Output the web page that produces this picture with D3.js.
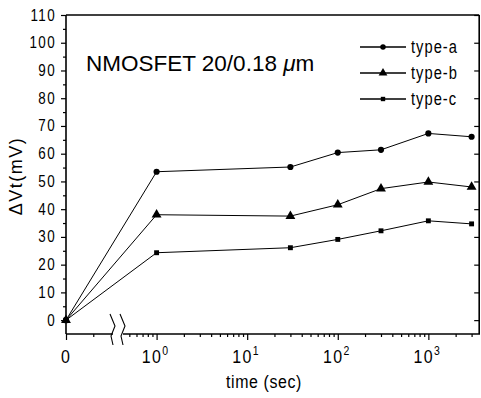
<!DOCTYPE html>
<html>
<head>
<meta charset="utf-8">
<script src="https://cdn.jsdelivr.net/npm/d3@7"></script>
<style>
  body { margin: 0; background: #fff; }
  svg { display: block; font-family: "Liberation Sans", Arial, sans-serif; }
</style>
</head>
<body>
<svg id="chart" width="481" height="398"></svg>
<script>
// data (time 0 sits at the axis origin)
const times = [0, 1, 30, 100, 300, 1000, 3000];
const typeA = [0, 53.5, 55.2, 60.4, 61.4, 67.3, 66.1];
const typeB = [0, 38.0, 37.5, 41.6, 47.4, 49.8, 48.0];
const typeC = [0, 24.3, 26.1, 29.1, 32.2, 35.8, 34.7];
const seriesNames = ["type-a", "type-b", "type-c"];
const yMajor = d3.range(0, 111, 10);
const yMinor = d3.range(5, 110, 10);
const xMajor = [0.1, 1, 10, 100, 1000];
const xMajorLabels = ["0", "10|0", "10|1", "10|2", "10|3"];

const svg = d3.select("#chart");
const plotL = 66, plotR = 480, plotT = 15, plotB = 334;
const squeeze = 0.84; // no narrow font installed, so squash the text horizontally

// log axis; the zero point is drawn at 0.1, behind the axis break
const x = d3.scaleLog().domain([0.1, Math.pow(10, 3.57)]).range([plotL, plotR]);
const y = d3.scaleLinear().domain([-5, 110]).range([plotB, plotT]);
const xPos = t => x(t === 0 ? 0.1 : t);

function narrowText(parent, tx, ty) {
  return parent.append("text")
    .attr("transform", `translate(${tx},${ty}) scale(${squeeze},1)`);
}

// minor x ticks, skipping what the break covers
const xMinor = [0.2, 0.5, 0.6, 0.7, 0.8, 0.9];
[1, 10, 100].forEach(d => { for (let k = 2; k <= 9; k++) xMinor.push(d * k); });
xMinor.push(2000, 3000);

// frame
const frame = svg.append("g").attr("stroke", "#000").attr("stroke-width", 1.6).attr("fill", "none");
frame.append("line").attr("x1", plotL).attr("x2", plotL).attr("y1", plotT).attr("y2", plotB);
frame.append("line").attr("x1", plotL).attr("x2", plotR - 0.8).attr("y1", plotT).attr("y2", plotT);
frame.append("line").attr("x1", plotR - 0.8).attr("x2", plotR - 0.8).attr("y1", plotT).attr("y2", plotB);
frame.append("line").attr("x1", plotL).attr("x2", 113).attr("y1", plotB).attr("y2", plotB);
frame.append("line").attr("x1", 123).attr("x2", plotR).attr("y1", plotB).attr("y2", plotB);

// axis break marks
[110, 120].forEach(bx => {
  frame.append("polyline")
    .attr("stroke-width", 1.1)
    .attr("points", `${bx},314 ${bx + 5},326 ${bx + 1},336 ${bx + 3},345`);
});

// y axis ticks
svg.append("g").attr("transform", `translate(${plotL},0)`)
  .call(d3.axisLeft(y).tickValues(yMajor).tickSize(5).tickFormat(""));
svg.append("g").attr("transform", `translate(${plotL},0)`)
  .call(d3.axisLeft(y).tickValues(yMinor).tickSize(3).tickFormat(""));
svg.append("g").attr("transform", `translate(${plotR - 0.8},0)`)
  .call(d3.axisLeft(y).tickValues(yMajor).tickSize(5).tickFormat(""));

const yl = svg.append("g").attr("font-size", 16).attr("text-anchor", "end");
yMajor.forEach(v => {
  narrowText(yl, plotL - 10, y(v) + 5.5).attr("letter-spacing", 1.6).text(v);
});

// x axis ticks
svg.append("g").attr("transform", `translate(0,${plotB})`)
  .call(d3.axisBottom(x).tickValues(xMajor).tickSize(6).tickFormat(""));
svg.append("g").attr("transform", `translate(0,${plotB})`)
  .call(d3.axisBottom(x).tickValues(xMinor).tickSize(3).tickFormat(""));
svg.selectAll(".domain").remove();
svg.selectAll(".tick line").attr("stroke-width", 1.2);

// x tick labels with superscripts
const xl = svg.append("g").attr("font-size", 19).attr("text-anchor", "middle");
xMajor.forEach((v, i) => {
  const parts = xMajorLabels[i].split("|");
  const t = narrowText(xl, x(v) + (parts[1] ? -1 : 0), 363).attr("letter-spacing", 1.6);
  t.append("tspan").text(parts[0]);
  if (parts[1]) t.append("tspan").attr("dy", -8).attr("font-size", 12.5).text(parts[1]);
});

// axis titles
narrowText(svg, 264, 388).attr("text-anchor", "middle")
  .attr("font-size", 19).attr("letter-spacing", 0.7).text("time (sec)");
svg.append("text").attr("transform", "translate(22,176) rotate(-90)")
  .attr("text-anchor", "middle").attr("font-size", 18).attr("letter-spacing", 1.5)
  .text("ΔVt(mV)");

// figure title
const title = svg.append("text").attr("x", 86).attr("y", 71).attr("font-size", 22.5);
title.append("tspan").text("NMOSFET 20/0.18 ");
title.append("tspan").attr("font-style", "italic").text("μ");
title.append("tspan").text("m");

// markers
const symbols = [d3.symbolCircle, d3.symbolTriangle, d3.symbolSquare];
const symSizes = [30, 42, 24];
const seriesData = [typeA, typeB, typeC];

const line = d3.line().x(d => xPos(d.t)).y(d => y(d.v));

seriesData.forEach((vals, s) => {
  const pts = times.map((t, i) => ({ t: t, v: vals[i] }));
  svg.append("path").datum(pts)
    .attr("d", line).attr("fill", "none").attr("stroke", "#000").attr("stroke-width", 1);
  svg.append("g").selectAll("path").data(pts).enter().append("path")
    .attr("transform", d => `translate(${xPos(d.t)},${y(d.v)})`)
    .attr("d", d3.symbol().type(symbols[s]).size(symSizes[s]))
    .attr("fill", "#000");
});

// legend
const legendRows = [47, 73, 99];
seriesNames.forEach((name, s) => {
  const g = svg.append("g").attr("transform", `translate(0,${legendRows[s]})`);
  g.append("line").attr("x1", 360).attr("x2", 406).attr("y1", 0).attr("y2", 0)
    .attr("stroke", "#000").attr("stroke-width", 1.4);
  g.append("path").attr("transform", "translate(383,0)")
    .attr("d", d3.symbol().type(symbols[s]).size(symSizes[s] * 0.8)).attr("fill", "#000");
  narrowText(g, 411, 6).attr("font-size", 17.5).attr("letter-spacing", 1.2).text(name);
});
</script>
</body>
</html>
